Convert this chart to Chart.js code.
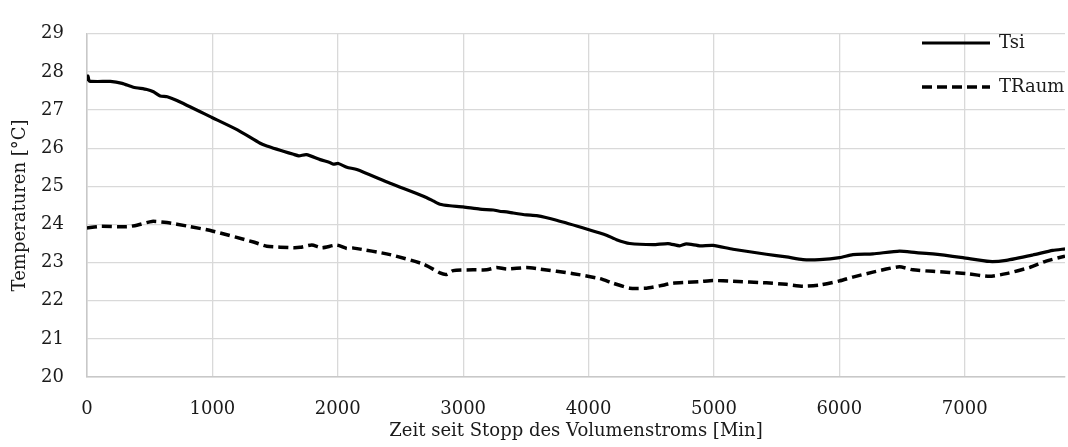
<!DOCTYPE html>
<html>
<head>
<meta charset="utf-8">
<script src="https://cdn.jsdelivr.net/npm/chart.js@4"></script>
<style>
  html, body { margin: 0; padding: 0; background: #fff; }
  #wrap { width: 1068px; height: 447px; }
</style>
</head>
<body>
<div id="wrap"><canvas id="temps"></canvas></div>
<script>
// Zeit seit Stopp [Min] und Temperaturen [°C]
const tsiTime = [0, 8, 20, 186, 280, 370, 478, 530, 584, 640, 717, 1000, 1200, 1381, 1434, 1647, 1690, 1750, 1860, 1940, 1966, 2004, 2072, 2152, 2417, 2683, 2760, 2815, 2895, 3000, 3134, 3240, 3300, 3347, 3400, 3506, 3586, 3745, 3997, 4143, 4223, 4329, 4515, 4634, 4727, 4780, 4887, 4993, 5152, 5418, 5578, 5710, 5843, 6002, 6108, 6268, 6480, 6613, 6746, 6985, 7198, 7331, 7543, 7702, 7800];
const tsiValues = [27.76, 27.9, 27.76, 27.75, 27.7, 27.6, 27.54, 27.48, 27.37, 27.35, 27.25, 26.8, 26.48, 26.13, 26.06, 25.84, 25.8, 25.83, 25.7, 25.62, 25.58, 25.6, 25.5, 25.44, 25.08, 24.74, 24.62, 24.53, 24.49, 24.46, 24.4, 24.38, 24.34, 24.33, 24.3, 24.25, 24.23, 24.11, 23.87, 23.72, 23.6, 23.5, 23.47, 23.5, 23.44, 23.49, 23.44, 23.45, 23.35, 23.22, 23.15, 23.08, 23.08, 23.13, 23.21, 23.23, 23.3, 23.26, 23.23, 23.13, 23.03, 23.06, 23.2, 23.32, 23.36];

const raumTime = [0, 106, 318, 398, 518, 637, 797, 998, 1328, 1434, 1647, 1700, 1793, 1873, 1992, 2072, 2127, 2417, 2683, 2815, 2868, 2921, 3080, 3187, 3267, 3347, 3506, 3612, 3878, 4090, 4196, 4329, 4462, 4568, 4674, 4780, 4887, 4993, 5152, 5418, 5578, 5710, 5843, 6002, 6108, 6268, 6374, 6480, 6587, 6746, 7012, 7198, 7331, 7517, 7650, 7800];
const raumValues = [23.91, 23.95, 23.94, 23.98, 24.08, 24.05, 23.96, 23.83, 23.54, 23.43, 23.39, 23.4, 23.46, 23.39, 23.46, 23.37, 23.38, 23.21, 22.96, 22.73, 22.69, 22.79, 22.81, 22.81, 22.87, 22.83, 22.87, 22.83, 22.71, 22.58, 22.46, 22.33, 22.33, 22.39, 22.46, 22.48, 22.5, 22.53, 22.51, 22.47, 22.43, 22.38, 22.41, 22.52, 22.62, 22.75, 22.83, 22.89, 22.81, 22.77, 22.71, 22.64, 22.71, 22.87, 23.04, 23.17];

const seriesLabels = ["Tsi", "TRaum"];
const xTickValues = [0, 1000, 2000, 3000, 4000, 5000, 6000, 7000];

const toPoints = (xs, ys) => xs.map((x, i) => ({ x: x, y: ys[i] }));

const serif = "'DejaVu Serif', serif";
const textColor = "#1a1a1a";
const gridGray = "#d9d9d9";

// small legend drawn inside the plot, top right
const lineLegend = {
    id: "lineLegend",
    afterDatasetsDraw(chart, args, opts) {
        const ctx = chart.ctx;
        ctx.save();
        chart.data.datasets.forEach((ds, i) => {
            const y = opts.top + i * opts.rowGap;
            ctx.beginPath();
            ctx.setLineDash(ds.borderDash || []);
            ctx.lineWidth = ds.borderWidth;
            ctx.strokeStyle = ds.borderColor;
            ctx.moveTo(opts.left, y);
            ctx.lineTo(opts.left + opts.lineLength, y);
            ctx.stroke();
            ctx.setLineDash([]);
            ctx.fillStyle = textColor;
            ctx.font = "18px " + serif;
            ctx.textBaseline = "middle";
            ctx.textAlign = "left";
            ctx.fillText(ds.label, opts.left + opts.lineLength + 9, y);
        });
        ctx.restore();
    }
};

new Chart(document.getElementById("temps"), {
    type: "line",
    data: {
        datasets: [
            {
                label: seriesLabels[0],
                data: toPoints(tsiTime, tsiValues),
                borderColor: "#000",
                borderWidth: 3.2,
                pointRadius: 0,
                tension: 0.2,
            },
            {
                label: seriesLabels[1],
                data: toPoints(raumTime, raumValues),
                borderColor: "#000",
                borderWidth: 3.5,
                borderDash: [10, 5],
                pointRadius: 0,
                tension: 0.2,
            },
        ],
    },
    plugins: [lineLegend],
    options: {
        responsive: true,
        maintainAspectRatio: false,
        animation: false,
        layout: {
            padding: { top: 22, right: 3, left: 0, bottom: 0 },
        },
        plugins: {
            legend: { display: false },
            tooltip: { enabled: false },
            lineLegend: { left: 922, top: 43, rowGap: 44, lineLength: 68 },
        },
        scales: {
            x: {
                type: "linear",
                min: 0,
                max: 7800,
                afterFit: (scale) => { scale.height = 70; },
                afterBuildTicks: (scale) => {
                    scale.ticks = xTickValues.map((v) => ({ value: v }));
                },
                ticks: {
                    padding: 22,
                    color: textColor,
                    font: { family: serif, size: 18 },
                    callback: (v) => String(v),
                },
                grid: { color: gridGray, lineWidth: 1.3, drawTicks: false },
                border: { color: "#c8c8c8", width: 1.5 },
                title: {
                    display: true,
                    text: "Zeit seit Stopp des Volumenstroms [Min]",
                    color: textColor,
                    font: { family: serif, size: 18 },
                    padding: { top: 0, bottom: 5 },
                },
            },
            y: {
                min: 20,
                max: 29,
                afterFit: (scale) => { scale.width = 87; },
                ticks: {
                    stepSize: 1,
                    padding: 23,
                    color: textColor,
                    font: { family: serif, size: 18 },
                },
                grid: { color: gridGray, lineWidth: 1.3, drawTicks: false },
                border: { color: "#c8c8c8", width: 1.5 },
                title: {
                    display: true,
                    text: "Temperaturen [°C]",
                    color: textColor,
                    font: { family: serif, size: 18 },
                    padding: { top: 10, bottom: 0 },
                },
            },
        },
    },
});
</script>
</body>
</html>
